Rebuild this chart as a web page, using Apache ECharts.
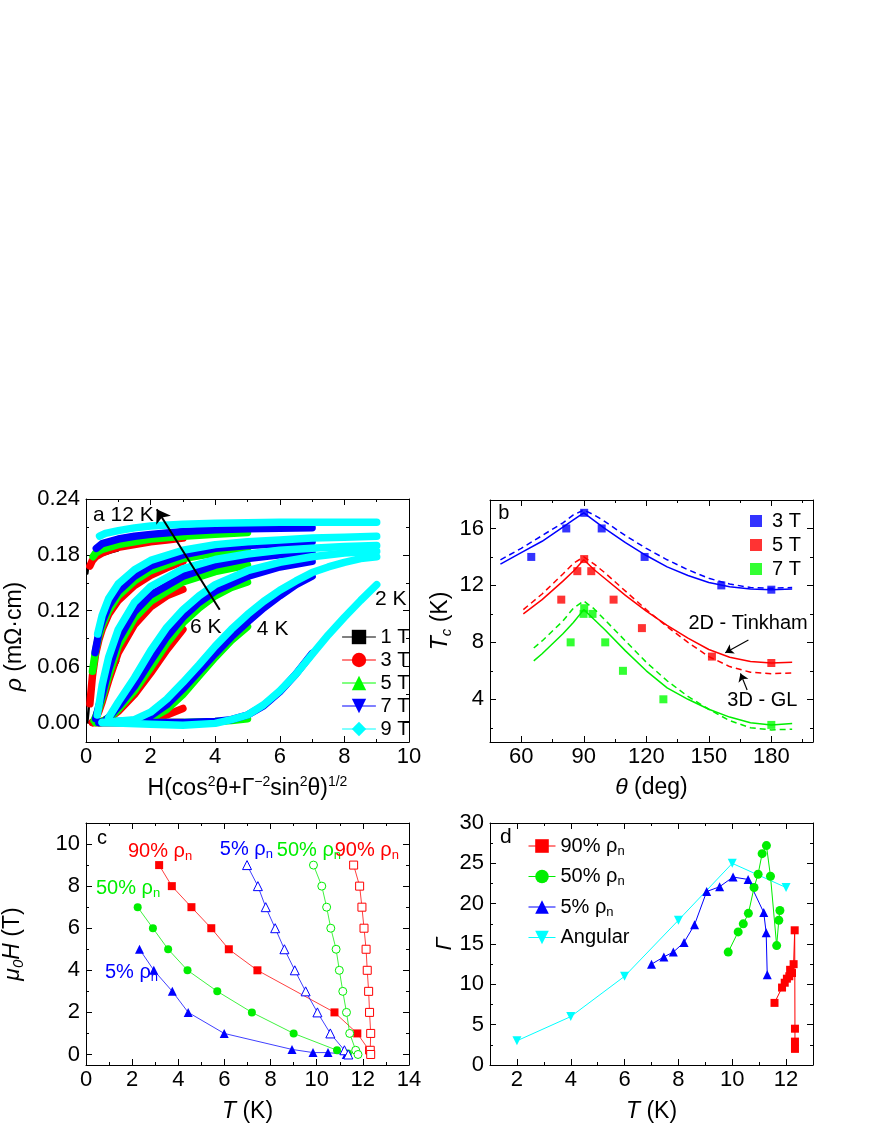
<!DOCTYPE html>
<html lang="en">
<head>
<meta charset="UTF-8">
<title>Tc anisotropy</title>
<script src="https://cdn.jsdelivr.net/npm/echarts@6/dist/echarts.min.js"></script>
<style>
    html, body { margin: 0; padding: 0; background: #fff; }
    #container { width: 872px; height: 1128px; }
</style>
</head>
<body>
<div id="container"></div>
<script>
    // ---------- panel a : rho vs scaled field, one curve per temperature (12,10,8,6,4,2 K) ----------
    var tempsA = [12, 10, 8, 6, 4, 2];
    var curves1T = [
        [[0.04,0.160],[0.06,0.165],[0.1,0.169],[0.2,0.174],[0.4,0.178],[0.6,0.181],[0.8,0.183],[1,0.185]],
        [[0.04,0.0],[0.07,0.01],[0.1,0.022],[0.15,0.04],[0.2,0.054],[0.3,0.072],[0.4,0.086],[0.5,0.097],[0.6,0.106],[0.8,0.119],[1,0.128]],
        [[0.2,0],[0.3,0.003],[0.4,0.01],[0.5,0.02],[0.6,0.032],[0.8,0.052],[1,0.066]],
        [[0.4,0],[0.6,0.002],[0.8,0.006],[1,0.012]],
        [[0.1,0],[1,0]],
        [[0.1,0],[1,0]]
    ];
    var curves3T = [
        [[0.12,0.168],[0.2,0.174],[0.3,0.178],[0.5,0.182],[0.8,0.186],[1,0.188],[1.5,0.191],[2,0.194],[2.5,0.196],[3,0.198]],
        [[0.12,0.02],[0.2,0.05],[0.3,0.074],[0.4,0.089],[0.5,0.1],[0.7,0.116],[1,0.131],[1.5,0.147],[2,0.158],[2.5,0.166],[3,0.173]],
        [[0.2,0],[0.3,0.004],[0.4,0.012],[0.5,0.022],[0.7,0.045],[1,0.075],[1.5,0.105],[2,0.124],[2.5,0.136],[3,0.143]],
        [[0.4,0],[0.7,0.004],[1,0.012],[1.5,0.03],[2,0.053],[2.5,0.078],[3,0.1]],
        [[0.2,0],[1.5,0.001],[2,0.003],[2.5,0.008],[3,0.015]],
        [[0.2,0],[3,0]]
    ];
    var curves5T = [
        [[0.22,0.178],[0.3,0.182],[0.5,0.186],[1,0.191],[1.5,0.194],[2,0.197],[3,0.2],[4,0.202],[5,0.204]],
        [[0.2,0.055],[0.3,0.078],[0.4,0.093],[0.5,0.104],[0.7,0.12],[1,0.136],[1.5,0.152],[2,0.163],[3,0.176],[4,0.182],[5,0.186]],
        [[0.25,0.002],[0.4,0.015],[0.5,0.026],[0.7,0.05],[1,0.082],[1.5,0.112],[2,0.13],[3,0.151],[4,0.162],[5,0.169]],
        [[0.5,0.001],[0.8,0.007],[1,0.014],[1.5,0.034],[2,0.059],[2.5,0.085],[3,0.107],[3.5,0.123],[4,0.136],[4.5,0.145],[5,0.151]],
        [[0.3,0],[1.5,0.001],[2,0.004],[2.5,0.014],[3,0.03],[3.5,0.05],[4,0.07],[4.5,0.088],[5,0.103]],
        [[0.3,0],[3,0],[4,0.001],[4.5,0.002],[5,0.004]]
    ];
    var curves7T = [
        [[0.32,0.187],[0.5,0.192],[1,0.197],[1.5,0.2],[2,0.202],[3,0.205],[4,0.207],[5,0.208],[6,0.2085],[7,0.209]],
        [[0.28,0.075],[0.4,0.097],[0.5,0.108],[0.7,0.125],[1,0.141],[1.5,0.157],[2,0.168],[3,0.18],[4,0.187],[5,0.19],[6,0.192],[7,0.194]],
        [[0.3,0.004],[0.4,0.018],[0.5,0.03],[0.7,0.057],[1,0.089],[1.5,0.119],[2,0.137],[3,0.157],[4,0.169],[5,0.176],[6,0.18],[7,0.182]],
        [[0.6,0.002],[0.8,0.009],[1,0.017],[1.5,0.039],[2,0.066],[2.5,0.092],[3,0.113],[3.5,0.129],[4,0.141],[5,0.157],[6,0.167],[7,0.173]],
        [[0.4,0],[1.5,0.002],[2,0.007],[2.5,0.019],[3,0.036],[3.5,0.055],[4,0.074],[4.5,0.092],[5,0.108],[5.5,0.123],[6,0.136],[6.5,0.148],[7,0.157]],
        [[0.4,0],[3,0],[4,0.001],[4.5,0.003],[5,0.008],[5.5,0.018],[6,0.033],[6.5,0.052],[7,0.074]]
    ];
    var curves9T = [
        [[0.42,0.2],[0.6,0.203],[1,0.206],[1.5,0.209],[2,0.211],[3,0.213],[4,0.214],[5,0.2145],[6,0.215],[7,0.215],[8,0.215],[9,0.215]],
        [[0.36,0.095],[0.5,0.115],[0.7,0.133],[1,0.149],[1.5,0.164],[2,0.174],[3,0.185],[4,0.191],[5,0.194],[6,0.196],[7,0.198],[8,0.199],[9,0.2]],
        [[0.35,0.008],[0.5,0.04],[0.7,0.07],[1,0.1],[1.5,0.129],[2,0.146],[3,0.165],[4,0.175],[5,0.181],[6,0.185],[7,0.187],[8,0.189],[9,0.19]],
        [[0.7,0.005],[1,0.022],[1.5,0.048],[2,0.077],[2.5,0.102],[3,0.121],[3.5,0.136],[4,0.148],[5,0.163],[6,0.172],[7,0.178],[8,0.182],[9,0.184]],
        [[0.5,0],[1.5,0.003],[2,0.011],[2.5,0.025],[3,0.043],[3.5,0.062],[4,0.082],[4.5,0.1],[5,0.116],[5.5,0.13],[6,0.142],[6.5,0.152],[7,0.161],[7.5,0.167],[8,0.172],[8.5,0.176],[9,0.178]],
        [[0.5,0],[2,-0.002],[3,-0.003],[4,-0.001],[4.5,0.003],[5,0.008],[5.5,0.019],[6,0.034],[6.5,0.052],[7,0.073],[7.5,0.094],[8,0.113],[8.5,0.131],[9,0.148]]
    ];
    var fieldNamesA = ['1 T', '3 T', '5 T', '7 T', '9 T'];
    var arrowA = [[4.14, 0.121], [2.19, 0.229]];
    var labelsA = [['a 12 K', 0.22, 0.2228], ['6 K', 3.22, 0.102], ['4 K', 5.29, 0.100], ['2 K', 8.95, 0.132]];

    // ---------- panel b : Tc vs angle ----------
    var ptsB3T = [[64.8,14.0],[81.6,16.0],[90.2,17.1],[98.6,16.0],[119.2,14.0],[156,12.0],[180,11.7]];
    var ptsB5T = [[79.2,11.0],[86.9,13.0],[90.2,13.85],[93.6,13.0],[104.3,11.0],[117.9,9.0],[151.5,7.0],[180,6.55]];
    var ptsB7T = [[83.7,8.0],[89.9,10.0],[90.2,10.4],[94.2,10.0],[100.3,8.0],[108.8,6.0],[128.2,4.0],[180,2.2]];
    var thetaFit3 = [50, 60, 70, 80, 85, 90, 95, 100, 110, 120, 130, 140, 150, 160, 170, 180, 190];
    var tink3T    = [13.5, 14.3, 15.1, 16.1, 16.6, 17.1, 16.55, 16.0, 15.0, 14.1, 13.3, 12.7, 12.2, 11.9, 11.75, 11.7, 11.75];
    var gl3T      = [13.8, 14.6, 15.5, 16.4, 16.95, 17.3, 16.95, 16.5, 15.5, 14.6, 13.8, 13.1, 12.5, 12.1, 11.85, 11.8, 11.85];
    var thetaFit5 = [61, 70, 80, 85, 90, 95, 100, 110, 120, 130, 140, 150, 160, 170, 180, 190];
    var tink5T    = [10.0, 11.0, 12.3, 13.0, 13.8, 13.1, 12.5, 11.3, 10.2, 9.2, 8.3, 7.5, 6.95, 6.65, 6.55, 6.6];
    var gl5T      = [10.3, 11.4, 12.8, 13.55, 14.0, 13.5, 12.9, 11.6, 10.3, 9.1, 8.0, 7.0, 6.3, 5.9, 5.8, 5.85];
    var thetaFit7 = [66, 70, 80, 85, 90, 95, 100, 110, 120, 130, 140, 150, 160, 170, 180, 190];
    var tink7T    = [6.7, 7.2, 8.6, 9.4, 10.3, 9.6, 8.9, 7.4, 6.0, 4.8, 4.0, 3.3, 2.75, 2.35, 2.2, 2.3];
    var gl7T      = [7.6, 8.1, 9.5, 10.4, 10.9, 10.35, 9.6, 8.1, 6.6, 5.3, 4.2, 3.3, 2.5, 2.0, 1.85, 1.9];
    var arrowTinkham = [[169.0, 8.16], [157.9, 7.27]];
    var arrowGL = [[168.4, 4.65], [165.2, 5.82]];
    var labelsB = [['b', 48.9, 17.07], ['2D - Tinkham', 140.2, 9.35], ['3D - GL', 158.9, 3.95]];

    // ---------- panel c : mu0H vs T (filled = perpendicular, open = parallel) ----------
    var c90Perp = [[3.17,9],[3.72,8],[4.57,7],[5.43,6],[6.19,5],[7.43,4],[10.77,2],[11.76,1],[12.27,0.2]];
    var c50Perp = [[2.24,7],[2.9,6],[3.56,5],[4.4,4],[5.69,3],[7.19,2],[9.0,1],[10.88,0.2],[11.35,0.05]];
    var c5Perp  = [[2.32,5],[2.94,4],[3.74,3],[4.43,2],[5.99,1],[8.93,0.24],[9.84,0.09],[10.49,0.09],[11.28,0]];
    var c90Par  = [[11.6,9],[11.86,8],[11.96,7],[12.05,6],[12.14,5],[12.19,4],[12.25,3],[12.29,2],[12.34,1],[12.32,0.2],[12.34,0]];
    var c50Par  = [[9.86,9],[10.22,8],[10.43,7],[10.61,6],[10.84,5],[10.98,4],[11.13,3],[11.29,2],[11.43,1],[11.69,0.2],[11.79,0]];
    var c5Par   = [[6.98,9],[7.45,8],[7.79,7],[8.2,6],[8.6,5],[9.05,4],[9.52,3],[10.03,2],[10.59,1],[11.2,0.2],[11.37,0]];
    var labelsC = [
        ['c', 0.48, 10.25, '#000'],
        ['90% ρ{sub|n}', 1.82, 9.65, '#ff0000'],
        ['5% ρ{sub|n}', 5.8, 9.75, '#0000ff'],
        ['50% ρ{sub|n}', 8.27, 9.68, '#00ee00'],
        ['90% ρ{sub|n}', 10.78, 9.68, '#ff0000'],
        ['50% ρ{sub|n}', 0.43, 7.87, '#00ee00'],
        ['5% ρ{sub|n}', 0.82, 3.88, '#0000ff']
    ];

    // ---------- panel d : anisotropy vs T ----------
    var d90 = [[11.57,7.7],[11.85,9.6],[11.95,10.2],[12.03,10.7],[12.12,11.0],[12.15,11.8],[12.22,11.4],[12.28,12.5],[12.32,16.7],[12.33,4.5],[12.33,2.9],[12.33,2.0]];
    var d50 = [[9.85,14.0],[10.22,16.5],[10.41,17.5],[10.6,18.8],[10.81,22.0],[10.96,23.65],[11.11,26.2],[11.27,27.2],[11.42,23.4],[11.65,14.8],[11.73,17.95],[11.77,19.15]];
    var d5  = [[7.0,12.5],[7.46,13.4],[7.81,14.0],[8.21,15.2],[8.6,17.4],[9.05,21.5],[9.53,22.1],[10.03,23.3],[10.59,23.0],[11.17,18.9],[11.26,16.4],[11.3,11.2]];
    var dAngular = [[2,3.0],[4,6.0],[6,11.0],[8,17.95],[10,25.0],[12,22.0]];
    var labelsD = [['d', 1.37, 28.3]];

    var FONT = '"Liberation Sans", Arial, sans-serif';
    var DOWN = 'path://M0,0L10,0L5,10Z';
    var RED = '#ff0000', GREEN = '#00ee00', BLUE = '#0000ff', CYAN = '#00ffff';
    var RICH = {
        i: { fontStyle: 'italic', fontSize: 23, fontFamily: FONT, color: '#000' },
        isub: { fontStyle: 'italic', fontSize: 15, fontFamily: FONT, color: '#000', padding: [11, 0, 0, 0] },
        sup: { fontSize: 14, fontFamily: FONT, color: '#000', padding: [0, 0, 13, 0] },
        gap: { width: 32 }
    };

    var myChart = echarts.init(document.getElementById('container'));

    var grids = [
        { left: 86, top: 499, width: 323, height: 243 },
        { left: 490, top: 500, width: 323, height: 242 },
        { left: 86, top: 823, width: 323, height: 242 },
        { left: 490, top: 823, width: 323, height: 242 }
    ].map(function (g) { g.outerBoundsMode = 'none'; g.containLabel = false; return g; });

    var xAxes = [], yAxes = [];
    // main axis with labels + mirrored side axis, plus two axes carrying only the minor ticks
    function addAxes(list, dim, grid, range, majors, minors, opt) {
        var mainPos = dim === 'x' ? 'bottom' : 'left';
        var sidePos = dim === 'x' ? 'top' : 'right';
        function make(pos, vals, len, showLine) {
            return {
                type: 'value', gridIndex: grid, position: pos, min: range[0], max: range[1],
                axisLine: { show: showLine, onZero: false, lineStyle: { color: '#000', width: 1 } },
                axisTick: { show: true, inside: true, length: len, customValues: vals, lineStyle: { color: '#000', width: 1 } },
                axisLabel: { show: false },
                splitLine: { show: false }
            };
        }
        var idx = list.length;
        var main = make(mainPos, majors, 6, true);
        main.axisLabel = { show: true, customValues: majors, formatter: opt.fmt, color: '#000',
            fontFamily: FONT, fontSize: 22, margin: opt.margin };
        main.name = opt.name;
        main.nameLocation = 'middle';
        main.nameGap = opt.gap;
        main.nameTextStyle = { color: '#000', fontFamily: FONT, fontSize: 23, rich: RICH };
        list.push(main, make(sidePos, majors, 6, true), make(mainPos, minors, 3, false), make(sidePos, minors, 3, false));
        return idx;
    }
    function intFmt(v) { return String(Math.round(v)); }

    var axA = addAxes(xAxes, 'x', 0, [0, 10], [0, 2, 4, 6, 8, 10], [1, 3, 5, 7, 9],
        { fmt: intFmt, margin: 4, gap: 33, name: 'H(cos{sup|2}θ+Γ{sup|−2}sin{sup|2}θ){sup|1/2}' });
    var ayA = addAxes(yAxes, 'y', 0, [-0.021, 0.24], [0, 0.06, 0.12, 0.18, 0.24], [0.03, 0.09, 0.15, 0.21],
        { fmt: function (v) { return v.toFixed(2); }, margin: 6, gap: 60, name: '{i|ρ} (mΩ·cm){gap|}' });
    var axB = addAxes(xAxes, 'x', 1, [45, 200], [60, 90, 120, 150, 180], [75, 105, 135, 165, 195],
        { fmt: intFmt, margin: 4, gap: 34, name: '{i|θ} (deg)' });
    var ayB = addAxes(yAxes, 'y', 1, [1, 18], [4, 8, 12, 16], [2, 6, 10, 14],
        { fmt: intFmt, margin: 6, gap: 36, name: '{i|T}{isub|c} (K)' });
    var axC = addAxes(xAxes, 'x', 2, [0, 14], [0, 2, 4, 6, 8, 10, 12, 14], [1, 3, 5, 7, 9, 11, 13],
        { fmt: intFmt, margin: 4, gap: 35, name: '{i|T} (K)' });
    var ayC = addAxes(yAxes, 'y', 2, [-0.5, 11], [0, 2, 4, 6, 8, 10], [1, 3, 5, 7, 9],
        { fmt: intFmt, margin: 6, gap: 60, name: '{i|μ}{isub|0}{i|H} (T)' });
    var axD = addAxes(xAxes, 'x', 3, [1, 13], [2, 4, 6, 8, 10, 12], [3, 5, 7, 9, 11],
        { fmt: intFmt, margin: 4, gap: 35, name: '{i|T} (K)' });
    var ayD = addAxes(yAxes, 'y', 3, [0, 30], [0, 5, 10, 15, 20, 25, 30], [2.5, 7.5, 12.5, 17.5, 22.5, 27.5],
        { fmt: intFmt, margin: 6, gap: 32, name: '{i|Γ}' });

    var series = [];

    // panel a
    var colorsA = ['#000000', RED, '#00ff00', BLUE, CYAN];
    var symbolsA = ['rect', 'circle', 'triangle', DOWN, 'diamond'];
    var firstA = series.length;
    [curves1T, curves3T, curves5T, curves7T, curves9T].forEach(function (curves, f) {
        curves.forEach(function (pts, t) {
            series.push({
                type: 'line', name: fieldNamesA[f], xAxisIndex: axA, yAxisIndex: ayA,
                data: pts, showSymbol: false, symbol: symbolsA[f], symbolSize: 8,
                lineStyle: { color: colorsA[f], width: f === 0 ? 2.5 : 7.5, cap: 'round', join: 'round' },
                itemStyle: { color: colorsA[f] }, silent: true
            });
        });
    });
    series[firstA].markLine = {
        silent: true, symbol: ['none', 'arrow'], symbolSize: 13, animation: false,
        label: { show: false }, lineStyle: { color: '#000', width: 2, type: 'solid' }, z: 20,
        data: [[{ coord: arrowA[0] }, { coord: arrowA[1] }]]
    };

    // panel b
    function zip(xs, ys) { return xs.map(function (x, i) { return [x, ys[i]]; }); }
    var firstB = series.length;
    [[thetaFit3, tink3T, gl3T, BLUE], [thetaFit5, tink5T, gl5T, RED], [thetaFit7, tink7T, gl7T, GREEN]].forEach(function (f) {
        series.push({ type: 'line', name: 'fitT', xAxisIndex: axB, yAxisIndex: ayB, data: zip(f[0], f[1]),
            showSymbol: false, symbol: 'none', lineStyle: { color: f[3], width: 1.5 }, silent: true });
        series.push({ type: 'line', name: 'fitG', xAxisIndex: axB, yAxisIndex: ayB, data: zip(f[0], f[2]),
            showSymbol: false, symbol: 'none', lineStyle: { color: f[3], width: 1.5, type: [6, 4] }, silent: true });
    });
    series[firstB + 2].markLine = {
        silent: true, symbol: ['none', 'arrow'], symbolSize: 8, animation: false,
        label: { show: false }, lineStyle: { color: '#000', width: 1.2, type: 'solid' },
        data: [[{ coord: arrowTinkham[0] }, { coord: arrowTinkham[1] }], [{ coord: arrowGL[0] }, { coord: arrowGL[1] }]]
    };
    [['b3', ptsB3T, BLUE], ['b5', ptsB5T, RED], ['b7', ptsB7T, '#00ff00']].forEach(function (p) {
        series.push({ type: 'scatter', name: p[0], xAxisIndex: axB, yAxisIndex: ayB, data: p[1],
            symbol: 'rect', symbolSize: 8, itemStyle: { color: p[2] }, silent: true });
    });

    // panel c  (open symbols: white fill, thin coloured outline)
    var firstC = series.length;
    [[c90Perp, 'rect', RED, 8, false], [c50Perp, 'circle', GREEN, 8, false], [c5Perp, 'triangle', BLUE, 9, false],
     [c90Par, 'rect', RED, 8, true], [c50Par, 'circle', GREEN, 8, true], [c5Par, 'triangle', BLUE, 9, true]].forEach(function (s, k) {
        series.push({ type: 'line', name: 'c' + k, xAxisIndex: axC, yAxisIndex: ayC, data: s[0],
            symbol: s[1], symbolSize: s[3], lineStyle: { color: s[2], width: 1, opacity: 0.75 },
            itemStyle: s[4] ? { color: '#fff', borderColor: s[2], borderWidth: 1 } : { color: s[2] },
            silent: true });
    });

    // panel d
    var firstD = series.length;
    [['d90', d90, 'rect', RED, 8], ['d50', d50, 'circle', GREEN, 9], ['d5', d5, 'triangle', BLUE, 9],
     ['dAng', dAngular, DOWN, CYAN, 9]].forEach(function (s) {
        series.push({ type: 'line', name: s[0], xAxisIndex: axD, yAxisIndex: ayD, data: s[1],
            symbol: s[2], symbolSize: s[4], lineStyle: { color: s[3], width: 1 },
            itemStyle: { color: s[3] }, silent: true });
    });

    var legendNames = { b3: '3 T', b5: '5 T', b7: '7 T',
        d90: '90% ρ{sub|n}', d50: '50% ρ{sub|n}', d5: '5% ρ{sub|n}', dAng: 'Angular' };
    var legendText = { color: '#000', fontFamily: FONT, fontSize: 20, lineHeight: 20,
        rich: { sub: { fontSize: 13, fontFamily: FONT, color: '#000', padding: [10, 0, 0, 0] } } };

    myChart.setOption({
        animation: false,
        backgroundColor: '#fff',
        grid: grids,
        xAxis: xAxes,
        yAxis: yAxes,
        legend: [
            { left: 337, top: 622, orient: 'vertical', itemWidth: 33, itemHeight: 18, itemGap: 3,
              data: fieldNamesA, textStyle: legendText, lineStyle: { width: 1 }, selectedMode: false },
            { left: 745, top: 506, orient: 'vertical', icon: 'rect', itemWidth: 12, itemHeight: 12, itemGap: 4,
              data: ['b3', 'b5', 'b7'], formatter: function (n) { return legendNames[n]; },
              textStyle: Object.assign({}, legendText, { padding: [0, 0, 0, 5] }), selectedMode: false },
            { left: 523, top: 830, orient: 'vertical', itemWidth: 27, itemHeight: 17, itemGap: 8,
              data: ['d90', 'd50', 'd5', 'dAng'], formatter: function (n) { return legendNames[n]; },
              textStyle: Object.assign({}, legendText, { lineHeight: 22 }), lineStyle: { width: 1 }, selectedMode: false }
        ],
        series: series
    });

    // text annotations, anchored in data coordinates
    function textAt(seriesIndex, item, size) {
        var p = myChart.convertToPixel({ seriesIndex: seriesIndex }, [item[1], item[2]]);
        var col = item[3] || '#000';
        return {
            type: 'text', x: p[0], y: p[1], silent: true, z: 50,
            style: { text: item[0], fill: col, fontFamily: FONT, fontSize: size || 20,
                align: 'left', verticalAlign: 'middle',
                rich: { sub: { fontSize: 13, fontFamily: FONT, fill: col, padding: [10, 0, 0, 0] } } }
        };
    }
    var graphics = [];
    labelsA.forEach(function (l) { graphics.push(textAt(firstA, l, 21)); });
    labelsB.forEach(function (l) { graphics.push(textAt(firstB, l)); });
    labelsC.forEach(function (l) { graphics.push(textAt(firstC, l)); });
    labelsD.forEach(function (l) { graphics.push(textAt(firstD, l, 21)); });
    myChart.setOption({ graphic: graphics });
</script>
</body>
</html>
